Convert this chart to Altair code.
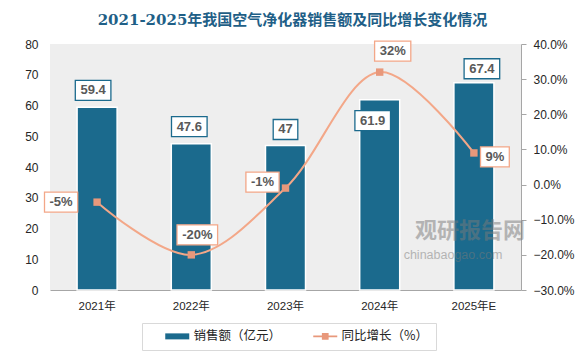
import altair as alt
import pandas as pd

years = ["2021年", "2022年", "2023年", "2024年", "2025年E"]
sales = [59.4, 47.6, 47, 61.9, 67.4]
growth = [-5, -20, -1, 32, 9]
sales_labels = ["59.4", "47.6", "47", "61.9", "67.4"]
growth_labels = ["-5%", "-20%", "-1%", "32%", "9%"]

S1 = "销售额（亿元）"
S2 = "同比增长（%）"
BAR = "#1b6a8d"
LINE = "#f3a788"
MARK = "#e8987b"
TXT = "#595959"
FONT = "Liberation Sans, Noto Sans CJK SC"

CW = {".": 3.6, "-": 4.4, "%": 11.6}


def box_path(t, h=20):
    w = 10 + sum(CW.get(c, 7.3) for c in t)
    return f"M{-w/2:.1f},{-h/2}H{w/2:.1f}V{h/2}H{-w/2:.1f}Z"


df = pd.DataFrame({"year": years, "sales": sales, "growth": growth,
                   "slab": sales_labels, "glab": growth_labels})
df["sbox"] = [box_path(t) for t in sales_labels]
df["gbox"] = [box_path(t) for t in growth_labels]

base = alt.Chart(df)

x = alt.X("year:N", sort=years,
          scale=alt.Scale(paddingInner=0.575, paddingOuter=0.2875),
          axis=alt.Axis(title=None, labelAngle=0, ticks=False, domainColor="#a6a6a6",
                        labelPadding=10, labelFontSize=11.5, labelColor="#262626",
                        labelFont=FONT))

y1 = alt.Y("sales:Q", scale=alt.Scale(domain=[0, 80], nice=False),
           axis=alt.Axis(title=None, values=list(range(0, 81, 10)), grid=False, domain=False,
                         ticks=False, labelPadding=12, labelFontSize=12, labelColor="#262626",
                         labelFont=FONT))

y2 = alt.Y("growth:Q", scale=alt.Scale(domain=[-30, 40], nice=False),
           axis=alt.Axis(title=None, orient="right", values=list(range(-30, 41, 10)), grid=False,
                         domainColor="#a6a6a6", tickColor="#a6a6a6", tickSize=5,
                         labelPadding=7, labelFontSize=12, labelColor="#262626", labelFont=FONT,
                         labelExpr="format(datum.value, '.1f') + '%'"))

shape_expr = ("datum.value === '" + S1 + "' ? 'M-2,-0.5H2V0.5H-2Z' : "
              "'M-2,-0.14H2V0.14H-2ZM-0.56,-0.56H0.56V0.56H-0.56Z'")

color = alt.Color("series:N",
                  scale=alt.Scale(domain=[S1, S2], range=[BAR, MARK]),
                  legend=alt.Legend(title=None, orient="none", legendX=92, legendY=279,
                                    direction="horizontal", strokeColor="#d9d9d9",
                                    padding=7, columnPadding=15, symbolOffset=22,
                                    symbolType=alt.ExprRef(expr=shape_expr), symbolSize=144,
                                    symbolStrokeWidth=0, labelFontSize=12.5,
                                    labelFont="Noto Sans CJK SC", labelColor="#262626",
                                    labelOffset=10))

bars = base.transform_calculate(series=f"'{S1}'").mark_bar(
    stroke="white", strokeWidth=1.5).encode(x=x, y=y1, color=color)

bar_offsets = {"2021年": (-4, -17), "2022年": (-2, -17), "2023年": (0, -16),
               "2024年": (-7, 21), "2025年E": (8, -14)}

line_offsets = {"2021年": (-36, 0), "2022年": (6, -20), "2023年": (-23, -6),
                "2024年": (13, -21), "2025年E": (21, 4)}

left_layers = [bars]
for yr, (ox, oy) in bar_offsets.items():
    sub = base.transform_filter(alt.datum.year == yr)
    left_layers.append(sub.mark_point(size=4, filled=True, fill="white", stroke=BAR,
                                      strokeWidth=1.3, opacity=1, xOffset=ox, yOffset=oy).encode(
        x=x, y=y1, shape=alt.Shape("sbox:N", scale=None, legend=None)))
    left_layers.append(sub.mark_text(dx=ox, dy=oy, font=FONT, fontSize=13, fontWeight="bold",
                                     color=TXT).encode(x=x, y=y1, text="slab:N"))

left = alt.layer(*left_layers)

line = base.mark_line(color=LINE, strokeWidth=2, interpolate="catmull-rom").encode(x=x, y=y2)

pts = base.transform_calculate(series=f"'{S2}'").mark_point(
    shape="square", size=55, filled=True, opacity=1).encode(x=x, y=y2, color=color)

right_layers = [line, pts]
for yr, (ox, oy) in line_offsets.items():
    sub = base.transform_filter(alt.datum.year == yr)
    right_layers.append(sub.mark_point(size=4, filled=True, fill="white", stroke=LINE,
                                       strokeWidth=1.3, opacity=1, xOffset=ox, yOffset=oy).encode(
        x=x, y=y2, shape=alt.Shape("gbox:N", scale=None, legend=None)))
    right_layers.append(sub.mark_text(dx=ox, dy=oy, font=FONT, fontSize=13, fontWeight="bold",
                                      color=TXT).encode(x=x, y=y2, text="glab:N"))

right = alt.layer(*right_layers)

wm = alt.Chart(pd.DataFrame({"t": ["观研报告网"]})).mark_text(
    font="Noto Sans CJK SC", fontSize=22, fontWeight="bold", color="#7a7a7a", opacity=0.5,
    align="center").encode(x=alt.value(420), y=alt.value(187), text="t:N")
wm2 = alt.Chart(pd.DataFrame({"t": ["chinabaogao.com"]})).mark_text(
    font=FONT, fontSize=12.5, color="#7a7a7a", opacity=0.5,
    align="center").encode(x=alt.value(403), y=alt.value(211), text="t:N")

chart = alt.layer(left, right, wm, wm2).resolve_scale(y="independent").properties(
    width=471, height=246,
    autosize=alt.AutoSizeParams(type="none"),
    padding={"left": 42, "top": 36, "right": 56, "bottom": 65},
    background="white",
    title=alt.TitleParams(text="2021-2025年我国空气净化器销售额及同比增长变化情况",
                          font="DejaVu Serif, Noto Sans CJK SC", fontSize=15, fontWeight="bold",
                          color="#1f5f87", anchor="middle", frame="group", dx=7, offset=10),
).configure_view(fill="#eeeeee", stroke=None)

chart.save("out.html", embed_options={"renderer": "svg", "actions": False})
